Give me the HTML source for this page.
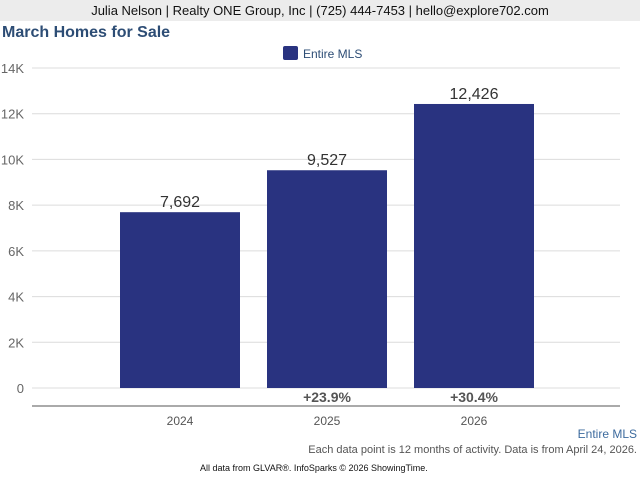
<!DOCTYPE html>
<html><head><meta charset="utf-8"><style>
body{margin:0;width:640px;height:480px;background:#fff;font-family:"Liberation Sans",sans-serif;overflow:hidden;position:relative}
.hdr{position:absolute;left:0;top:0;width:640px;height:21px;background:#ececec;text-align:center;font-size:13px;line-height:21px;color:#111}
.title{position:absolute;left:2px;top:24px;font-size:16px;font-weight:bold;color:#2d4d75}
.t{position:absolute;white-space:nowrap}
</style></head><body>
<div class="hdr">Julia Nelson | Realty ONE Group, Inc | (725) 444-7453 | hello@explore702.com</div>
<div class="title">March Homes for Sale</div>
<svg id="c" width="640" height="480" style="position:absolute;left:0;top:0"></svg>
<div class="t" style="right:3px;top:427px;font-size:12px;color:#3d6b9e">Entire MLS</div>
<div class="t" style="right:3px;top:444px;font-size:11px;color:#555">Each data point is 12 months of activity. Data is from April 24, 2026.</div>
<div class="t" style="left:200px;top:463px;font-size:9px;color:#111">All data from GLVAR®. InfoSparks © 2026 ShowingTime.</div>
<script>
const categories=["2024","2025","2026"];
const values=[7692,9527,12426];
const changes=["","+23.9%","+30.4%"];
const ticks=[0,2000,4000,6000,8000,10000,12000,14000];
const tickLabels=["0","2K","4K","6K","8K","10K","12K","14K"];
const svg=document.getElementById('c');const NS="http://www.w3.org/2000/svg";
const y=v=>388-v*(320/14000);
const x=i=>180+i*147;
function mk(t,a,txt){const e=document.createElementNS(NS,t);for(const k in a)e.setAttribute(k,a[k]);if(txt!=null)e.textContent=txt;svg.appendChild(e);return e;}
ticks.forEach((t,i)=>{
 const g=mk('line',{x1:32,x2:620,y1:y(t),y2:y(t),stroke:'#dcdcdc','stroke-width':1});
 
 
 const l=mk('text',{x:24,y:y(t)+5,'text-anchor':'end','font-size':13,fill:'#666','font-family':'Liberation Sans'},tickLabels[i]);
 
 
});
const ax=mk('line',{x1:32,x2:620,y1:406,y2:406,stroke:'#555','stroke-width':1});


categories.forEach((c,i)=>{
 const b=mk('rect',{x:x(i)-60,y:y(values[i]),width:120,height:388-y(values[i]),fill:'#293380'});
 
 
 const v=mk('text',{x:x(i),y:y(values[i])-5,'text-anchor':'middle','font-size':16,fill:'#333','font-family':'Liberation Sans'},values[i].toLocaleString('en-US'));
 
 
 const p=mk('text',{x:x(i),y:402,'text-anchor':'middle','font-size':14,'font-weight':'bold',fill:'#555','font-family':'Liberation Sans'},changes[i]);
 
 
 const t=mk('text',{x:x(i),y:425,'text-anchor':'middle','font-size':12,fill:'#555','font-family':'Liberation Sans'},c);
 
 
});
const lr=mk('rect',{x:283,y:46,width:15,height:14,rx:2,fill:'#293380'});


const lt=mk('text',{x:303,y:58,'font-size':12,fill:'#2d4d75','font-family':'Liberation Sans'},'Entire MLS');


</script>
</body></html>
